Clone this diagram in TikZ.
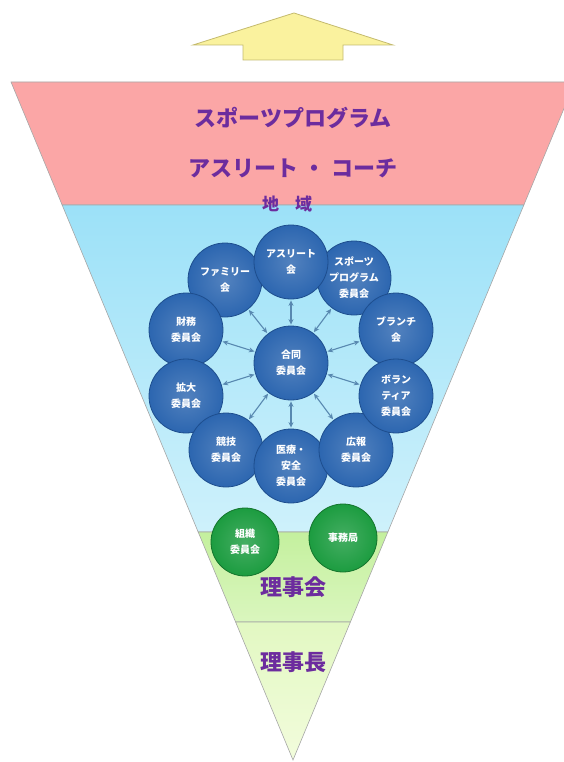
\documentclass[tikz,border=0pt]{standalone}
\usepackage{fontspec}
\setmainfont{Noto Sans CJK JP}
\usetikzlibrary{calc,arrows.meta}
\definecolor{titlepurple}{RGB}{108,44,158}
\definecolor{bandpink}{RGB}{251,166,166}
\definecolor{bandblue}{RGB}{156,225,248}
\definecolor{bandbluelow}{RGB}{206,241,251}
\definecolor{bandgreen}{RGB}{196,240,158}
\definecolor{bandgreenlow}{RGB}{218,246,190}
\definecolor{bandyellow}{RGB}{226,248,194}
\definecolor{bandyellowlow}{RGB}{242,252,220}
\definecolor{arrowyellow}{RGB}{250,242,158}
\definecolor{arrowedge}{RGB}{196,186,110}
\definecolor{ballblue}{RGB}{44,102,176}
\definecolor{ballbluedark}{RGB}{30,78,142}
\definecolor{ballgreen}{RGB}{28,156,64}
\definecolor{ballgreendark}{RGB}{20,116,44}
\definecolor{linkblue}{RGB}{88,136,176}

\begin{document}
\begin{tikzpicture}[x=1pt,y=-1pt,
  band/.style={draw=gray!70, line width=0.6pt},
  title/.style={text=titlepurple, font=\fontsize{22}{26}\selectfont\bfseries},
  ball/.style={circle, minimum size=74pt, inner sep=0pt, draw=ballbluedark, line width=0.8pt,
    inner color=ballblue!82!white, outer color=ballblue, text=white, align=center,
    font=\fontsize{10}{16}\selectfont\bfseries},
  greenball/.style={ball, minimum size=68pt, draw=ballgreendark,
    inner color=ballgreen!82!white, outer color=ballgreen},
  link/.style={<->, >={Stealth[length=5.5pt,width=5pt]}, draw=linkblue, line width=1.1pt,
    shorten <=1pt, shorten >=1pt}]
\useasboundingbox (0,0) rectangle (564,762);

% arrow on top
\draw[fill=arrowyellow, draw=arrowedge, line width=0.8pt]
  (294,13) -- (393,45) -- (343,45) -- (343,60) -- (243,60) -- (243,45) -- (193,45) -- cycle;

% triangle and bands
\coordinate (tl) at (11,82);
\coordinate (tr) at (575,82);
\coordinate (apex) at (293,760);
\coordinate (l1) at ($(tl)!0.1814!(apex)$);
\coordinate (r1) at ($(tr)!0.1814!(apex)$);
\coordinate (l2) at ($(tl)!0.6637!(apex)$);
\coordinate (r2) at ($(tr)!0.6637!(apex)$);
\coordinate (l3) at ($(tl)!0.7965!(apex)$);
\coordinate (r3) at ($(tr)!0.7965!(apex)$);
\draw[band, fill=bandpink] (tl) -- (tr) -- (r1) -- (l1) -- cycle;
\draw[band, top color=bandblue, bottom color=bandbluelow] (l1) -- (r1) -- (r2) -- (l2) -- cycle;
\draw[band, top color=bandgreen, bottom color=bandgreenlow] (l2) -- (r2) -- (r3) -- (l3) -- cycle;
\draw[band, top color=bandyellow, bottom color=bandyellowlow] (l3) -- (r3) -- (apex) -- cycle;

\node[title] (program) at (293,118) {スポーツプログラム};
\node[title] (coach) at (293,168) {アスリート ・ コーチ};
\node[title, font=\fontsize{17}{20}\selectfont\bfseries] (area) at (287,204) {地\hspace{16pt}域};

% committees
\node[ball] (family) at (225,280) {ファミリー\\会};
\node[ball] (finance) at (186,330) {財務\\委員会};
\node[ball] (expand) at (186,396) {拡大\\委員会};
\node[ball] (games) at (226,450) {競技\\委員会};
\node[ball] (medical) at (291,466) {医療・\\安全\\委員会};
\node[ball] (pr) at (356,450) {広報\\委員会};
\node[ball] (sports) at (354,278) {スポーツ\\プログラム\\委員会};
\node[ball] (branch) at (396,330) {ブランチ\\会};
\node[ball] (volunteer) at (396,396) {ボラン\\ティア\\委員会};
\node[ball] (athlete) at (291,262) {アスリート\\会};
\node[ball] (joint) at (291,363) {合同\\委員会};

\draw[link] (joint) -- (athlete);
\draw[link] (joint) -- (sports);
\draw[link] (joint) -- (branch);
\draw[link] (joint) -- (volunteer);
\draw[link] (joint) -- (pr);
\draw[link] (joint) -- (medical);
\draw[link] (joint) -- (games);
\draw[link] (joint) -- (expand);
\draw[link] (joint) -- (finance);
\draw[link] (joint) -- (family);

\node[greenball] (organize) at (245,542) {組織\\委員会};
\node[greenball] (office) at (343,538) {事務局};

\node[title] (board) at (293,587) {理事会};
\node[title] (chair) at (293,662) {理事長};
\end{tikzpicture}
\end{document}
